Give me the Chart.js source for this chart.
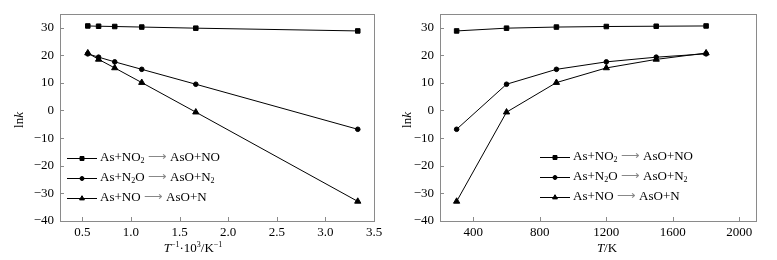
<!DOCTYPE html>
<html>
<head>
<meta charset="utf-8">
<script src="https://cdn.jsdelivr.net/npm/chart.js@4.4.1/dist/chart.umd.min.js"></script>
<style>
  html, body { margin: 0; padding: 0; background: #fff; }
  #wrap { position: relative; width: 777px; height: 260px; }
  #left { position: absolute; left: 0; top: 0; }
  #right { position: absolute; left: 388px; top: 0; }
</style>
</head>
<body>
<div id="wrap">
  <canvas id="left" width="388" height="260"></canvas>
  <canvas id="right" width="389" height="260"></canvas>
</div>
<script>
// datos
const temps = [300, 600, 900, 1200, 1500, 1800];
const invT = [3.333, 1.667, 1.111, 0.833, 0.667, 0.556];
const lnkNO2 = [28.8, 29.8, 30.2, 30.4, 30.5, 30.6];
const lnkN2O = [-6.8, 9.5, 14.9, 17.6, 19.3, 20.5];
const lnkNO = [-32.9, -0.6, 10.1, 15.4, 18.5, 20.8];
const yTicks = [-40, -30, -20, -10, 0, 10, 20, 30];
const xTicksLeft = [0.5, 1.0, 1.5, 2.0, 2.5, 3.0, 3.5];
const xTicksRight = [400, 800, 1200, 1600, 2000];

// textos de la leyenda: [texto, subindice?]
const legendRows = [
  { style: 'rect', parts: [['As+NO'], ['2', 'sub'], [' \u27F6 ', 'arrow'], ['AsO+NO']] },
  { style: 'circle', parts: [['As+N'], ['2', 'sub'], ['O'], [' \u27F6 ', 'arrow'], ['AsO+N'], ['2', 'sub']] },
  { style: 'triangle', parts: [['As+NO'], [' \u27F6 ', 'arrow'], ['AsO+N']] }
];

const FONT = '"Liberation Serif", "Times New Roman", serif';
const frameColor = '#8a8a8a';

function makeData(xs) {
  const mk = (ys, style, r) => ({
    data: xs.map((x, i) => ({ x: x, y: ys[i] })),
    borderColor: '#000',
    backgroundColor: '#000',
    borderWidth: 1,
    pointStyle: style,
    pointRadius: r,
    pointHoverRadius: r,
    pointBorderWidth: 1,
    tension: 0
  });
  return {
    datasets: [
      mk(lnkNO2, 'rect', 3.2),
      mk(lnkN2O, 'circle', 2.3),
      mk(lnkNO, 'triangle', 3.6)
    ]
  };
}

//Marco, marcas hacia adentro, leyenda y titulos
function decoPlugin(cfg) {
  return {
    id: 'deco',
    afterDraw(chart) {
      const ctx = chart.ctx;
      const a = chart.chartArea;
      ctx.save();
      ctx.strokeStyle = frameColor;
      ctx.lineWidth = 1;
      ctx.strokeRect(Math.round(a.left) + 0.5, Math.round(a.top) + 0.5,
        Math.round(a.right - a.left), Math.round(a.bottom - a.top));
      // marcas
      ctx.beginPath();
      chart.scales.x.ticks.forEach(t => {
        const px = Math.round(chart.scales.x.getPixelForValue(t.value)) + 0.5;
        ctx.moveTo(px, a.bottom);
        ctx.lineTo(px, a.bottom - 4);
      });
      chart.scales.y.ticks.forEach(t => {
        const py = Math.round(chart.scales.y.getPixelForValue(t.value)) + 0.5;
        ctx.moveTo(a.left, py);
        ctx.lineTo(a.left + 4, py);
      });
      ctx.stroke();

      // leyenda
      ctx.textBaseline = 'middle';
      legendRows.forEach((row, i) => {
        const y = cfg.legendY[i];
        const x0 = cfg.legendX;
        ctx.strokeStyle = '#000';
        ctx.beginPath();
        ctx.moveTo(x0, y + 0.5);
        ctx.lineTo(x0 + 30, y + 0.5);
        ctx.stroke();
        ctx.fillStyle = '#000';
        Chart.helpers.drawPoint(ctx, {
          pointStyle: row.style,
          radius: row.style === 'circle' ? 2 : 2.8,
          borderWidth: 1
        }, x0 + 15, y + 0.5);
        let x = x0 + 33;
        row.parts.forEach(p => {
          const kind = p[1];
          if (kind === 'sub') {
            ctx.font = '8px ' + FONT;
            ctx.fillStyle = '#000';
            ctx.fillText(p[0], x, y + 2.5);
          } else if (kind === 'arrow') {
            ctx.font = '13px ' + FONT;
            ctx.fillStyle = '#888';
            ctx.fillText(p[0], x, y);
          } else {
            ctx.font = '13px ' + FONT;
            ctx.fillStyle = '#000';
            ctx.fillText(p[0], x, y);
          }
          x += ctx.measureText(p[0]).width;
        });
      });

      // titulo eje y: ln k
      ctx.fillStyle = '#000';
      ctx.save();
      ctx.translate(cfg.yTitleX, cfg.yTitleY);
      ctx.rotate(-Math.PI / 2);
      ctx.textBaseline = 'middle';
      ctx.font = '13px ' + FONT;
      const w1 = ctx.measureText('ln').width;
      ctx.font = 'italic 13px ' + FONT;
      const w2 = ctx.measureText('k').width;
      let sx = -(w1 + w2) / 2;
      ctx.font = '13px ' + FONT;
      ctx.fillText('ln', sx, 0);
      ctx.font = 'italic 13px ' + FONT;
      ctx.fillText('k', sx + w1, 0);
      ctx.restore();

      // titulo eje x
      ctx.textBaseline = 'alphabetic';
      let total = 0;
      cfg.xTitle.forEach(p => { ctx.font = p[1]; total += ctx.measureText(p[0]).width; });
      let tx = cfg.xTitleX - total / 2;
      cfg.xTitle.forEach(p => {
        ctx.font = p[1];
        ctx.fillText(p[0], tx, cfg.xTitleY + (p[2] || 0));
        tx += ctx.measureText(p[0]).width;
      });
      ctx.restore();
    }
  };
}

function makeOptions(xmin, xmax, xticks, yWidth, padRight, fmt) {
  return {
    responsive: false,
    animation: false,
    layout: { padding: { left: 0, right: padRight, top: 13, bottom: 0 } },
    plugins: { legend: { display: false }, tooltip: { enabled: false } },
    scales: {
      x: {
        type: 'linear',
        min: xmin,
        max: xmax,
        afterBuildTicks: s => { s.ticks = xticks.map(v => ({ value: v })); },
        ticks: { color: '#000', font: { family: FONT, size: 13 }, padding: 4, maxRotation: 0, callback: fmt },
        grid: { display: false, drawTicks: false },
        border: { display: false },
        afterFit: s => { s.height = 39; }
      },
      y: {
        type: 'linear',
        min: -40,
        max: 35,
        afterBuildTicks: s => { s.ticks = yTicks.map(v => ({ value: v })); },
        ticks: {
          color: '#000', font: { family: FONT, size: 13 }, padding: 6,
          callback: v => String(v).replace('-', '\u2212')
        },
        grid: { display: false, drawTicks: false },
        border: { display: false },
        afterFit: s => { s.width = yWidth; }
      }
    }
  };
}

new Chart(document.getElementById('left'), {
  type: 'line',
  data: makeData(invT),
  options: makeOptions(0.27, 3.5, xTicksLeft, 60, 14, v => v.toFixed(1)),
  plugins: [decoPlugin({
    legendX: 67, legendY: [158, 178, 198],
    yTitleX: 20, yTitleY: 120,
    xTitleX: 193, xTitleY: 252,
    xTitle: [['T', 'italic 13px ' + FONT], ['\u22121', '8px ' + FONT, -5], ['\u00B710', '13px ' + FONT],
             ['3', '8px ' + FONT, -5], ['/K', '13px ' + FONT], ['\u22121', '8px ' + FONT, -5]]
  })]
});

new Chart(document.getElementById('right'), {
  type: 'line',
  data: makeData(temps),
  options: makeOptions(200, 2100, xTicksRight, 52, 21, v => String(v)),
  plugins: [decoPlugin({
    legendX: 152, legendY: [157, 177, 197],
    yTitleX: 20, yTitleY: 120,
    xTitleX: 219, xTitleY: 252,
    xTitle: [['T', 'italic 13px ' + FONT], ['/K', '13px ' + FONT]]
  })]
});
</script>
</body>
</html>
